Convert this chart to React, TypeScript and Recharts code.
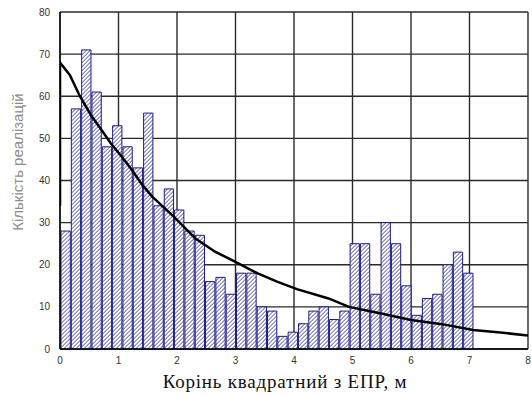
import { Bar, CartesianGrid, ComposedChart, Line, XAxis, YAxis } from "recharts";

// histogram: 40 bins from 0 to ~7.06
const binCount = 40;
const binMax = 7.06;
const counts = [
  28, 57, 71, 61, 48, 53, 48, 43, 56, 34, 38, 33, 28, 27, 16, 17, 13, 18, 18, 10,
  9, 3, 4, 6, 9, 10, 7, 9, 25, 25, 13, 30, 25, 15, 8, 12, 13, 20, 23, 18,
];

// fitted curve
const curveX = [0, 0, 0.17, 0.34, 0.53, 0.71, 0.87, 1.06, 1.23, 1.41, 1.58, 1.94, 2.31, 2.65, 3.0, 3.37, 3.71, 4.05, 4.59, 4.94, 5.47, 6.0, 6.53, 7.06, 7.53, 8.0];
const curveY = [34, 68, 65, 60, 55.5, 52, 48.8, 45.6, 42.5, 38.9, 36.1, 31.5, 26.3, 23.1, 20.7, 18, 16, 14.2, 12, 10, 8.5, 6.9, 5.9, 4.5, 3.9, 3.2];

const xTicks = [0, 1, 2, 3, 4, 5, 6, 7, 8];
const yTicks = [0, 10, 20, 30, 40, 50, 60, 70, 80];

const xTitle = "Корінь квадратний з ЕПР, м";
const yTitle = "Кількість реалізацій";

const binWidth = binMax / binCount;
const bins = counts.map((count, i) => ({ x: (i + 0.5) * binWidth, count }));
const curve = curveX.map((x, i) => ({ x, y: curveY[i] }));

const W = 532;
const H = 397;
const margin = { top: 12, right: 4, bottom: 0, left: 0 };
const yAxisWidth = 60;
const plotW = W - margin.left - margin.right - yAxisWidth;
const hatch = 2 * Math.SQRT2;

const tickStyle = { fontSize: 10, fill: "#333", fontFamily: "Liberation Sans Narrow, Liberation Sans, Arial, sans-serif" };

function YTitle() {
  return (
    <text
      x={19}
      y={162}
      transform="rotate(-90 19 162)"
      textAnchor="middle"
      dominantBaseline="middle"
      fontSize={15}
      fill="#8c8c8c"
      style={{ fontFamily: "Liberation Sans, Arial, sans-serif" }}
    >
      {yTitle}
    </text>
  );
}

export default function App() {
  return (
    <div style={{ position: "absolute", left: 0, top: 0, width: W, height: H, background: "#fff" }}>
      <ComposedChart width={W} height={H} data={bins} margin={margin} barCategoryGap={0} barGap={0}>
        <defs>
          <pattern id="hatch" width={hatch} height={hatch} patternUnits="userSpaceOnUse" patternTransform="rotate(45)">
            <rect width={hatch} height={hatch} fill="#fff" />
            <line x1="0" y1="0" x2="0" y2={hatch} stroke="#23238c" strokeWidth="1.3" />
          </pattern>
        </defs>
        <CartesianGrid stroke="#2a2a2a" strokeWidth={1.4} />
        <XAxis
          dataKey="x"
          type="number"
          domain={[0, 8]}
          ticks={xTicks}
          allowDataOverflow
          height={48}
          tickLine={false}
          axisLine={{ stroke: "#000", strokeWidth: 1.3 }}
          tick={tickStyle}
        />
        <XAxis xAxisId="curve" dataKey="x" type="number" domain={[0, 8]} allowDataOverflow hide />
        <YAxis
          type="number"
          domain={[0, 80]}
          ticks={yTicks}
          width={yAxisWidth}
          tickLine={false}
          tickMargin={4}
          axisLine={{ stroke: "#000", strokeWidth: 1.3 }}
          tick={tickStyle}
          label={<YTitle />}
        />
        <Bar
          dataKey="count"
          fill="url(#hatch)"
          stroke="#1c1c85"
          strokeWidth={1}
          barSize={(plotW * binWidth) / 8}
          isAnimationActive={false}
        />
        <Line
          xAxisId="curve"
          data={curve}
          dataKey="y"
          type="linear"
          stroke="#000"
          strokeWidth={2.5}
          dot={false}
          isAnimationActive={false}
        />
      </ComposedChart>
      <div
        style={{
          position: "absolute",
          left: 0,
          width: 570,
          top: 370,
          textAlign: "center",
          fontFamily: "'Liberation Serif', 'Times New Roman', Times, serif",
          fontSize: 19,
          letterSpacing: 0.8,
          lineHeight: "24px",
          color: "#111",
        }}
      >
        {xTitle}
      </div>
    </div>
  );
}
